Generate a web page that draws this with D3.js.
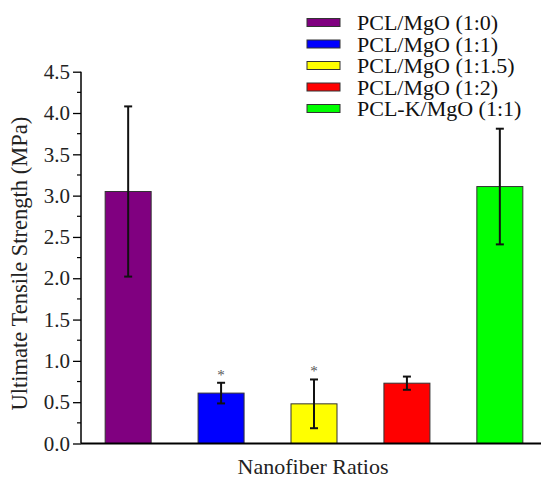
<!DOCTYPE html>
<html>
<head>
<meta charset="utf-8">
<script src="https://cdn.jsdelivr.net/npm/d3@7"></script>
<style>
  body { margin: 0; background: #fff; }
  svg { display: block; }
  svg text { font-family: "Liberation Serif", "Times New Roman", Tinos, "DejaVu Serif", serif; }
</style>
</head>
<body>
<div id="chart"></div>
<script>
const categories = ["PCL/MgO (1:0)", "PCL/MgO (1:1)", "PCL/MgO (1:1.5)", "PCL/MgO (1:2)", "PCL-K/MgO (1:1)"];
const means = [3.05, 0.61, 0.48, 0.73, 3.11];
const errors = [1.03, 0.125, 0.295, 0.08, 0.70];
const significant = [false, true, true, false, false];
const colors = ["#800080", "#0000ff", "#ffff00", "#ff0000", "#00ff00"];
const yTicks = [0, 0.5, 1, 1.5, 2, 2.5, 3, 3.5, 4, 4.5];

const W = 541, H = 479;
const plotLeft = 81, plotTop = 71.7, plotBottom = 443.5;
const serif = "'Liberation Serif', 'Times New Roman', Tinos, 'DejaVu Serif', serif";

const svg = d3.select("#chart").append("svg")
  .attr("width", W)
  .attr("height", H);

const x = d3.scaleBand()
  .domain(categories)
  .range([plotLeft, 547])
  .paddingInner(0.505)
  .paddingOuter(0.26);

const y = d3.scaleLinear()
  .domain([0, 4.5])
  .range([plotBottom, plotTop]);

const data = categories.map((c, i) => ({
  cat: c, mean: means[i], err: errors[i], sig: significant[i], color: colors[i]
}));

// Bars
svg.selectAll(".bar")
  .data(data)
  .join("rect")
  .attr("class", "bar")
  .attr("x", (d) => x(d.cat))
  .attr("y", (d) => y(d.mean))
  .attr("width", x.bandwidth())
  .attr("height", (d) => y(0) - y(d.mean))
  .attr("fill", (d) => d.color)
  .attr("stroke", "#333")
  .attr("stroke-width", 1);

// Error bars
const eb = svg.selectAll(".err")
  .data(data)
  .join("g")
  .attr("class", "err")
  .attr("stroke", "#111")
  .attr("stroke-width", 2);

eb.append("line")
  .attr("x1", (d) => x(d.cat) + x.bandwidth() / 2)
  .attr("x2", (d) => x(d.cat) + x.bandwidth() / 2)
  .attr("y1", (d) => y(d.mean + d.err))
  .attr("y2", (d) => y(d.mean - d.err));

[1, -1].forEach((s) => {
  eb.append("line")
    .attr("x1", (d) => x(d.cat) + x.bandwidth() / 2 - 4)
    .attr("x2", (d) => x(d.cat) + x.bandwidth() / 2 + 4)
    .attr("y1", (d) => y(d.mean + s * d.err))
    .attr("y2", (d) => y(d.mean + s * d.err));
});

// Significance stars
svg.selectAll(".star")
  .data(data.filter((d) => d.sig))
  .join("text")
  .attr("class", "star")
  .attr("x", (d) => x(d.cat) + x.bandwidth() / 2)
  .attr("y", (d) => y(d.mean + d.err) - 3)
  .attr("text-anchor", "middle")
  .attr("fill", "#555")
  .attr("font-size", "15px")
  .text("*");

// Y axis
const yAxis = svg.append("g")
  .attr("transform", `translate(${plotLeft},0)`)
  .call(d3.axisLeft(y).tickValues(yTicks).tickFormat(d3.format(".1f")).tickSize(8).tickPadding(3));
yAxis.attr("font-family", serif);
yAxis.select(".domain").attr("stroke", "#000").attr("stroke-width", 1.5).attr("d", `M0,${plotTop}V${plotBottom}`);
yAxis.selectAll(".tick line").attr("stroke", "#000").attr("stroke-width", 1.3);
yAxis.selectAll("text")
  .attr("fill", "#222")
  .attr("font-size", "21px");

// Minor ticks
svg.append("g")
  .selectAll("line")
  .data(yTicks.slice(0, -1).map((t) => t + 0.25))
  .join("line")
  .attr("x1", plotLeft - 4)
  .attr("x2", plotLeft)
  .attr("y1", (d) => y(d))
  .attr("y2", (d) => y(d))
  .attr("stroke", "#000")
  .attr("stroke-width", 1.2);

// X axis line
svg.append("line")
  .attr("x1", plotLeft)
  .attr("x2", W)
  .attr("y1", plotBottom)
  .attr("y2", plotBottom)
  .attr("stroke", "#000")
  .attr("stroke-width", 2);

// Axis titles
svg.append("text")
  .attr("transform", `translate(27,${(plotTop + plotBottom) / 2 + 6}) rotate(-90)`)
  .attr("text-anchor", "middle")
  .attr("fill", "#222")
  .attr("font-size", "22.5px")
  .text("Ultimate Tensile Strength (MPa)");

svg.append("text")
  .attr("x", 313)
  .attr("y", 474)
  .attr("text-anchor", "middle")
  .attr("fill", "#222")
  .attr("font-size", "22px")
  .text("Nanofiber Ratios");

// Legend
const legend = svg.append("g")
  .selectAll("g")
  .data(data)
  .join("g")
  .attr("transform", (d, i) => `translate(307,${22.5 + i * 21.5})`);

legend.append("rect")
  .attr("x", 0)
  .attr("y", -4)
  .attr("width", 33)
  .attr("height", 8)
  .attr("fill", (d) => d.color)
  .attr("stroke", "#333")
  .attr("stroke-width", 1);

legend.append("text")
  .attr("x", 50)
  .attr("y", 7.5)
  .attr("fill", "#111")
  .attr("font-size", "22px")
  .text((d) => d.cat);
</script>
</body>
</html>
